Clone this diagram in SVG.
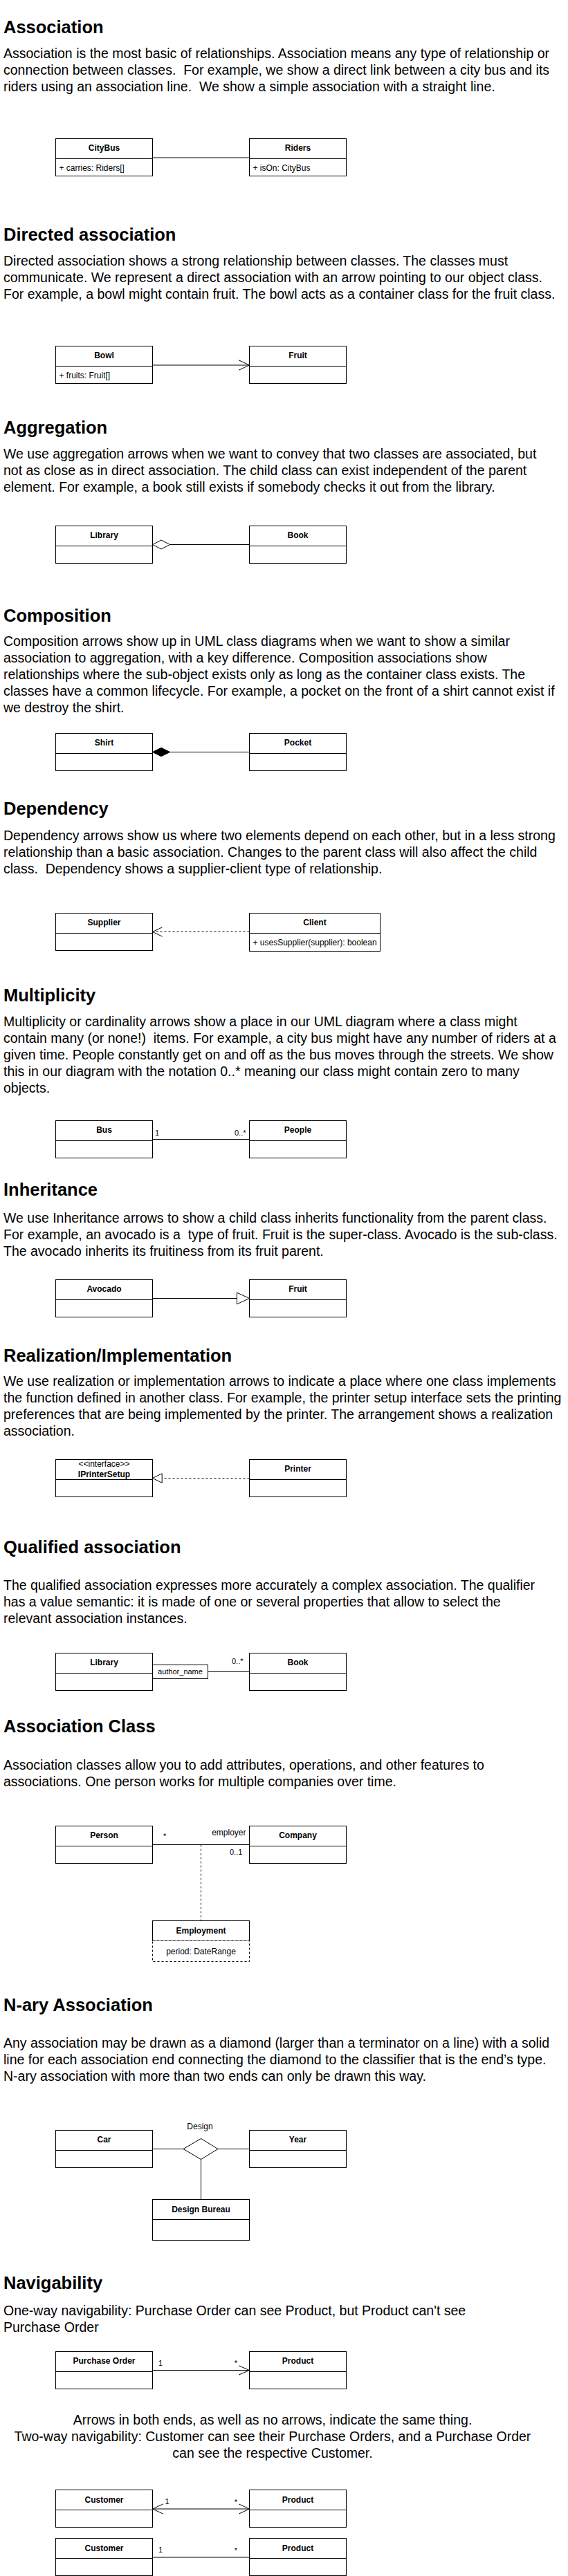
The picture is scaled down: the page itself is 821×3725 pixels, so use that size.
<svg xmlns="http://www.w3.org/2000/svg" width="821" height="3725" viewBox="0 0 821 3725">
<style>
text{font-family:"Liberation Sans",Arial,Helvetica,sans-serif;fill:#000;white-space:pre}
.h{font-size:25.5px;font-weight:bold}
.p{font-size:19.5px}
.c{text-anchor:middle}
.hd{font-size:12px;font-weight:bold;text-anchor:middle}
.at{font-size:12px}
.lb{font-size:11px}
.lb12{font-size:12px}
.box{fill:#fff;stroke:#000;stroke-width:1}
.dv{stroke:#000;stroke-width:1}
.ln{stroke:#000;stroke-width:1;fill:none}
.dash{stroke-dasharray:3 3}
.hollow{fill:#fff;stroke:#000;stroke-width:1}
.solid{fill:#000;stroke:#000;stroke-width:1}
</style>
<rect width="821" height="3725" fill="#fff"/>

<g id="texts">
<text class="h" x="5" y="48">Association</text>
<text class="p" x="5" y="84"><tspan x="5">Association is the most basic of relationships. Association means any type of relationship or</tspan><tspan x="5" dy="24">connection between classes.  For example, we show a direct link between a city bus and its</tspan><tspan x="5" dy="24">riders using an association line.  We show a simple association with a straight line.</tspan></text>

<text class="h" x="5" y="348">Directed association</text>
<text class="p" x="5" y="383.7"><tspan x="5">Directed association shows a strong relationship between classes. The classes must</tspan><tspan x="5" dy="24">communicate. We represent a direct association with an arrow pointing to our object class.</tspan><tspan x="5" dy="24">For example, a bowl might contain fruit. The bowl acts as a container class for the fruit class.</tspan></text>

<text class="h" x="5" y="627">Aggregation</text>
<text class="p" x="5" y="663"><tspan x="5">We use aggregation arrows when we want to convey that two classes are associated, but</tspan><tspan x="5" dy="24">not as close as in direct association. The child class can exist independent of the parent</tspan><tspan x="5" dy="24">element. For example, a book still exists if somebody checks it out from the library.</tspan></text>

<text class="h" x="5" y="898.5">Composition</text>
<text class="p" x="5" y="934"><tspan x="5">Composition arrows show up in UML class diagrams when we want to show a similar</tspan><tspan x="5" dy="24">association to aggregation, with a key difference. Composition associations show</tspan><tspan x="5" dy="24">relationships where the sub-object exists only as long as the container class exists. The</tspan><tspan x="5" dy="24">classes have a common lifecycle. For example, a pocket on the front of a shirt cannot exist if</tspan><tspan x="5" dy="24">we destroy the shirt.</tspan></text>

<text class="h" x="5" y="1178">Dependency</text>
<text class="p" x="5" y="1214.5"><tspan x="5">Dependency arrows show us where two elements depend on each other, but in a less strong</tspan><tspan x="5" dy="24">relationship than a basic association. Changes to the parent class will also affect the child</tspan><tspan x="5" dy="24">class.  Dependency shows a supplier-client type of relationship.</tspan></text>

<text class="h" x="5" y="1448">Multiplicity</text>
<text class="p" x="5" y="1484"><tspan x="5">Multiplicity or cardinality arrows show a place in our UML diagram where a class might</tspan><tspan x="5" dy="24">contain many (or none!)  items. For example, a city bus might have any number of riders at a</tspan><tspan x="5" dy="24">given time. People constantly get on and off as the bus moves through the streets. We show</tspan><tspan x="5" dy="24">this in our diagram with the notation 0..* meaning our class might contain zero to many</tspan><tspan x="5" dy="24">objects.</tspan></text>

<text class="h" x="5" y="1729">Inheritance</text>
<text class="p" x="5" y="1768.3"><tspan x="5">We use Inheritance arrows to show a child class inherits functionality from the parent class.</tspan><tspan x="5" dy="24">For example, an avocado is a  type of fruit. Fruit is the super-class. Avocado is the sub-class.</tspan><tspan x="5" dy="24">The avocado inherits its fruitiness from its fruit parent.</tspan></text>

<text class="h" x="5" y="1969">Realization/Implementation</text>
<text class="p" x="5" y="2003.7"><tspan x="5">We use realization or implementation arrows to indicate a place where one class implements</tspan><tspan x="5" dy="24">the function defined in another class. For example, the printer setup interface sets the printing</tspan><tspan x="5" dy="24">preferences that are being implemented by the printer. The arrangement shows a realization</tspan><tspan x="5" dy="24">association.</tspan></text>

<text class="h" x="5" y="2246">Qualified association</text>
<text class="p" x="5" y="2298.7"><tspan x="5">The qualified association expresses more accurately a complex association. The qualifier</tspan><tspan x="5" dy="24">has a value semantic: it is made of one or several properties that allow to select the</tspan><tspan x="5" dy="24">relevant association instances.</tspan></text>

<text class="h" x="5" y="2505">Association Class</text>
<text class="p" x="5" y="2558.7"><tspan x="5">Association classes allow you to add attributes, operations, and other features to</tspan><tspan x="5" dy="24">associations. One person works for multiple companies over time.</tspan></text>

<text class="h" x="5" y="2908">N-ary Association</text>
<text class="p" x="5" y="2960.7"><tspan x="5">Any association may be drawn as a diamond (larger than a terminator on a line) with a solid</tspan><tspan x="5" dy="24">line for each association end connecting the diamond to the classifier that is the end’s type.</tspan><tspan x="5" dy="24">N-ary association with more than two ends can only be drawn this way.</tspan></text>

<text class="h" x="5" y="3310">Navigability</text>
<text class="p" x="5" y="3348.3"><tspan x="5">One-way navigability: Purchase Order can see Product, but Product can't see</tspan><tspan x="5" dy="24">Purchase Order</tspan></text>

<text class="p c" x="394" y="3506"><tspan x="394">Arrows in both ends, as well as no arrows, indicate the same thing.</tspan><tspan x="394" dy="24">Two-way navigability: Customer can see their Purchase Orders, and a Purchase Order</tspan><tspan x="394" dy="24">can see the respective Customer.</tspan></text>
</g>

<g id="connectors">
<line class="ln" x1="220.5" y1="228" x2="360.5" y2="228"/>
<line class="ln" x1="220.5" y1="528" x2="360" y2="528"/>
<polyline class="ln" points="345,520.7 360.5,528 345,535.3"/>
<line class="ln" x1="245.7" y1="787.5" x2="360.5" y2="787.5"/>
<polygon class="hollow" points="220.5,787.5 233,781 245.7,787.5 233,794"/>
<line class="ln" x1="245.7" y1="1087.5" x2="360.5" y2="1087.5"/>
<polygon class="solid" points="220.5,1087.5 233,1081.3 245.7,1087.5 233,1093.7"/>
<line class="ln dash" x1="360.5" y1="1347.5" x2="221" y2="1347.5"/>
<polyline class="ln" points="234.5,1340.8 220.5,1347.5 234.5,1354.2"/>
<line class="ln" x1="220.5" y1="1647.5" x2="360.5" y2="1647.5"/>
<text class="lb" x="224" y="1642">1</text>
<text class="lb" x="339" y="1642">0..*</text>
<line class="ln" x1="220.5" y1="1877.5" x2="342.4" y2="1877.5"/>
<polygon class="hollow" points="342.4,1869.2 360.5,1877.5 342.4,1885.8"/>
<line class="ln dash" x1="360.5" y1="2137.5" x2="234.2" y2="2137.5"/>
<polygon class="hollow" points="234.2,2130.8 220.5,2137.5 234.2,2144.2"/>
<line class="ln" x1="300.5" y1="2417.5" x2="360.5" y2="2417.5"/>
<text class="lb" x="335" y="2405.5">0..*</text>
<line class="ln" x1="220.5" y1="2667.5" x2="360.5" y2="2667.5"/>
<line class="ln dash" x1="290.5" y1="2667.5" x2="290.5" y2="2777.5"/>
<text class="lb" x="236" y="2659.3">*</text>
<text class="lb12" x="355.5" y="2653.7" text-anchor="end">employer</text>
<text class="lb" x="332" y="2682">0..1</text>
<line class="ln" x1="220.5" y1="3107.5" x2="265" y2="3107.5"/>
<line class="ln" x1="315" y1="3107.5" x2="360.5" y2="3107.5"/>
<line class="ln" x1="290.5" y1="3122" x2="290.5" y2="3180.5"/>
<line class="ln" x1="220.5" y1="3427.5" x2="360" y2="3427.5"/>
<polyline class="ln" points="345,3420.8 360.5,3427.5 345,3434.2"/>
<text class="lb" x="229" y="3420.5">1</text>
<text class="lb" x="338.7" y="3421">*</text>
<line class="ln" x1="221" y1="3628" x2="360" y2="3628"/>
<polyline class="ln" points="235.5,3621 220.5,3628 235.5,3635"/>
<polyline class="ln" points="345.5,3621 360.5,3628 345.5,3635"/>
<text class="lb" x="238.4" y="3621">1</text>
<text class="lb" x="338.7" y="3622">*</text>
<line class="ln" x1="220.5" y1="3698" x2="360.5" y2="3698"/>
<text class="lb" x="229" y="3691">1</text>
<text class="lb" x="338.7" y="3692">*</text>
</g>

<g id="citybus"><rect class="box" x="80.5" y="200.5" width="140" height="54"/><line class="dv" x1="80.5" y1="229.5" x2="220.5" y2="229.5"/><text class="hd" x="150.5" y="218.3">CityBus</text><text class="at" x="85.5" y="246.7">+ carries: Riders[]</text></g>
<g id="riders"><rect class="box" x="360.5" y="200.5" width="140" height="54"/><line class="dv" x1="360.5" y1="229.5" x2="500.5" y2="229.5"/><text class="hd" x="430.5" y="218.3">Riders</text><text class="at" x="365.5" y="246.7">+ isOn: CityBus</text></g>

<g id="bowl"><rect class="box" x="80.5" y="500.5" width="140" height="54"/><line class="dv" x1="80.5" y1="529.5" x2="220.5" y2="529.5"/><text class="hd" x="150.5" y="518.3">Bowl</text><text class="at" x="85.5" y="546.7">+ fruits: Fruit[]</text></g>
<g id="fruit1"><rect class="box" x="360.5" y="500.5" width="140" height="54"/><line class="dv" x1="360.5" y1="529.5" x2="500.5" y2="529.5"/><text class="hd" x="430.5" y="518.3">Fruit</text></g>

<g id="library1"><rect class="box" x="80.5" y="760.5" width="140" height="54"/><line class="dv" x1="80.5" y1="789.5" x2="220.5" y2="789.5"/><text class="hd" x="150.5" y="778.3">Library</text></g>
<g id="book1"><rect class="box" x="360.5" y="760.5" width="140" height="54"/><line class="dv" x1="360.5" y1="789.5" x2="500.5" y2="789.5"/><text class="hd" x="430.5" y="778.3">Book</text></g>

<g id="shirt"><rect class="box" x="80.5" y="1060.5" width="140" height="54"/><line class="dv" x1="80.5" y1="1089.5" x2="220.5" y2="1089.5"/><text class="hd" x="150.5" y="1078.3">Shirt</text></g>
<g id="pocket"><rect class="box" x="360.5" y="1060.5" width="140" height="54"/><line class="dv" x1="360.5" y1="1089.5" x2="500.5" y2="1089.5"/><text class="hd" x="430.5" y="1078.3">Pocket</text></g>

<g id="supplier"><rect class="box" x="80.5" y="1320.5" width="140" height="54"/><line class="dv" x1="80.5" y1="1349.5" x2="220.5" y2="1349.5"/><text class="hd" x="150.5" y="1338.3">Supplier</text></g>
<g id="client"><rect class="box" x="360.5" y="1320.5" width="189" height="55"/><line class="dv" x1="360.5" y1="1349.5" x2="549.5" y2="1349.5"/><text class="hd" x="455" y="1338.3">Client</text><text class="at" x="365.5" y="1366.5">+ usesSupplier(supplier): boolean</text></g>

<g id="bus"><rect class="box" x="80.5" y="1620.5" width="140" height="54"/><line class="dv" x1="80.5" y1="1649.5" x2="220.5" y2="1649.5"/><text class="hd" x="150.5" y="1638.3">Bus</text></g>
<g id="people"><rect class="box" x="360.5" y="1620.5" width="140" height="54"/><line class="dv" x1="360.5" y1="1649.5" x2="500.5" y2="1649.5"/><text class="hd" x="430.5" y="1638.3">People</text></g>

<g id="avocado"><rect class="box" x="80.5" y="1850.5" width="140" height="54"/><line class="dv" x1="80.5" y1="1879.5" x2="220.5" y2="1879.5"/><text class="hd" x="150.5" y="1868.3">Avocado</text></g>
<g id="fruit2"><rect class="box" x="360.5" y="1850.5" width="140" height="54"/><line class="dv" x1="360.5" y1="1879.5" x2="500.5" y2="1879.5"/><text class="hd" x="430.5" y="1868.3">Fruit</text></g>

<g id="iprintersetup"><rect class="box" x="80.5" y="2110.5" width="140" height="54"/><line class="dv" x1="80.5" y1="2139.5" x2="220.5" y2="2139.5"/><text class="at c" x="150.5" y="2120.5">&lt;&lt;interface&gt;&gt;</text><text class="hd" x="150.5" y="2135.5">IPrinterSetup</text></g>
<g id="printer"><rect class="box" x="360.5" y="2110.5" width="140" height="54"/><line class="dv" x1="360.5" y1="2139.5" x2="500.5" y2="2139.5"/><text class="hd" x="430.5" y="2128.3">Printer</text></g>

<g id="library2"><rect class="box" x="80.5" y="2390.5" width="140" height="54"/><line class="dv" x1="80.5" y1="2419.5" x2="220.5" y2="2419.5"/><text class="hd" x="150.5" y="2408.3">Library</text></g>
<g id="qualifier"><rect class="box" x="220.5" y="2407.5" width="80" height="20"/><text class="lb c" x="260.5" y="2421">author_name</text></g>
<g id="book2"><rect class="box" x="360.5" y="2390.5" width="140" height="54"/><line class="dv" x1="360.5" y1="2419.5" x2="500.5" y2="2419.5"/><text class="hd" x="430.5" y="2408.3">Book</text></g>

<g id="person"><rect class="box" x="80.5" y="2640.5" width="140" height="54"/><line class="dv" x1="80.5" y1="2669.5" x2="220.5" y2="2669.5"/><text class="hd" x="150.5" y="2658.3">Person</text></g>
<g id="company"><rect class="box" x="360.5" y="2640.5" width="140" height="54"/><line class="dv" x1="360.5" y1="2669.5" x2="500.5" y2="2669.5"/><text class="hd" x="430.5" y="2658.3">Company</text></g>
<g id="employment"><rect class="box" x="220.5" y="2777.5" width="140" height="29"/><rect class="box dash" x="220.5" y="2806.5" width="140" height="30"/><text class="hd" x="290.5" y="2795.5">Employment</text><text class="at c" x="290.5" y="2825.7">period: DateRange</text></g>

<g id="car"><rect class="box" x="80.5" y="3080.5" width="140" height="54"/><line class="dv" x1="80.5" y1="3109.5" x2="220.5" y2="3109.5"/><text class="hd" x="150.5" y="3098.3">Car</text></g>
<g id="year"><rect class="box" x="360.5" y="3080.5" width="140" height="54"/><line class="dv" x1="360.5" y1="3109.5" x2="500.5" y2="3109.5"/><text class="hd" x="430.5" y="3098.3">Year</text></g>
<g id="design"><polygon class="hollow" points="265,3107.5 290.5,3092.5 315,3107.5 290.5,3122.5"/><text class="lb12 c" x="289" y="3079">Design</text></g>
<g id="designbureau"><rect class="box" x="220.5" y="3180.5" width="140" height="59"/><line class="dv" x1="220.5" y1="3209.5" x2="360.5" y2="3209.5"/><text class="hd" x="290.5" y="3198.5">Design Bureau</text></g>

<g id="purchaseorder"><rect class="box" x="80.5" y="3400.5" width="140" height="54"/><line class="dv" x1="80.5" y1="3429.5" x2="220.5" y2="3429.5"/><text class="hd" x="150.5" y="3418.3">Purchase Order</text></g>
<g id="product1"><rect class="box" x="360.5" y="3400.5" width="140" height="54"/><line class="dv" x1="360.5" y1="3429.5" x2="500.5" y2="3429.5"/><text class="hd" x="430.5" y="3418.3">Product</text></g>

<g id="customer1"><rect class="box" x="80.5" y="3600.5" width="140" height="54"/><line class="dv" x1="80.5" y1="3629.5" x2="220.5" y2="3629.5"/><text class="hd" x="150.5" y="3618.8">Customer</text></g>
<g id="product2"><rect class="box" x="360.5" y="3600.5" width="140" height="54"/><line class="dv" x1="360.5" y1="3629.5" x2="500.5" y2="3629.5"/><text class="hd" x="430.5" y="3618.8">Product</text></g>

<g id="customer2"><rect class="box" x="80.5" y="3670.5" width="140" height="54"/><line class="dv" x1="80.5" y1="3699.5" x2="220.5" y2="3699.5"/><text class="hd" x="150.5" y="3688.8">Customer</text></g>
<g id="product3"><rect class="box" x="360.5" y="3670.5" width="140" height="54"/><line class="dv" x1="360.5" y1="3699.5" x2="500.5" y2="3699.5"/><text class="hd" x="430.5" y="3688.8">Product</text></g>
</svg>
